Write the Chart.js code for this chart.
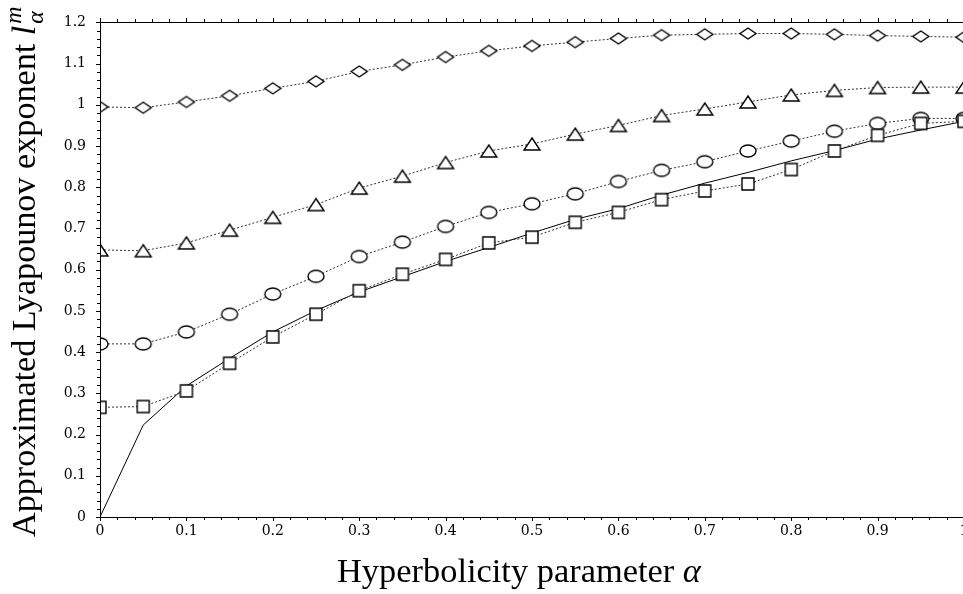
<!DOCTYPE html>
<html>
<head>
<meta charset="utf-8">
<script src="https://cdn.jsdelivr.net/npm/chart.js@4.4.1/dist/chart.umd.min.js"></script>
<style>
html,body{margin:0;padding:0;background:#fff;overflow:hidden;width:963px;height:594px;}
canvas{display:block;}
</style>
</head>
<body>
<canvas id="c" width="990" height="594"></canvas>
<script>
// ---- data ----
const alpha = [0,0.05,0.1,0.15,0.2,0.25,0.3,0.35,0.4,0.45,0.5,0.55,0.6,0.65,0.7,0.75,0.8,0.85,0.9,0.95,1.0];
const diamondVals  = [0.995,0.993,1.007,1.022,1.040,1.057,1.081,1.097,1.116,1.131,1.143,1.152,1.161,1.169,1.171,1.173,1.173,1.171,1.168,1.166,1.164];
const triangleVals = [0.648,0.646,0.665,0.696,0.727,0.758,0.798,0.827,0.860,0.888,0.905,0.929,0.950,0.974,0.990,1.007,1.024,1.035,1.042,1.043,1.043];
const circleVals   = [0.420,0.420,0.449,0.492,0.541,0.584,0.632,0.667,0.705,0.739,0.760,0.784,0.814,0.841,0.862,0.888,0.912,0.936,0.955,0.967,0.967];
const squareVals   = [0.266,0.268,0.306,0.373,0.437,0.492,0.549,0.589,0.625,0.665,0.679,0.715,0.739,0.770,0.791,0.808,0.843,0.888,0.926,0.955,0.960];
const exactVals    = [0,0.223,0.318,0.385,0.449,0.501,0.546,0.583,0.620,0.654,0.689,0.722,0.748,0.781,0.810,0.836,0.864,0.889,0.917,0.939,0.960];
const xTickLabels = {0:'0',1:'0.1',2:'0.2',3:'0.3',4:'0.4',5:'0.5',6:'0.6',7:'0.7',8:'0.8',9:'0.9',10:'1'};
const yTickLabels = {0:'0',1:'0.1',2:'0.2',3:'0.3',4:'0.4',5:'0.5',6:'0.6',7:'0.7',8:'0.8',9:'0.9',10:'1',11:'1.1',12:'1.2'};
const xTitle = 'Hyperbolicity parameter ';
const xTitleSym = 'α';
const yTitle = 'Approximated Lyapounov exponent ';

// ---- markers ----
function marker(w, h, path){
  const c = document.createElement('canvas');
  c.width = Math.ceil(w) + 4; c.height = Math.ceil(h) + 4;
  const g = c.getContext('2d');
  g.translate(c.width/2, c.height/2);
  g.beginPath(); path(g); g.closePath();
  g.fillStyle = '#fff'; g.fill();
  g.lineWidth = 1.4; g.strokeStyle = '#000'; g.stroke();
  return c;
}
const mDiamond = marker(16,11,g=>{g.moveTo(0,-5.5);g.lineTo(8,0);g.lineTo(0,5.5);g.lineTo(-8,0);});
const mTriangle = marker(16,12,g=>{g.moveTo(0,-6);g.lineTo(8,6);g.lineTo(-8,6);});
const mCircle = marker(16,12,g=>{g.ellipse(0,0,8,6,0,0,Math.PI*2);});
const mSquare = marker(12,12,g=>{g.rect(-6,-6,12,12);});

const pts = vals => alpha.map((a,i)=>({x:a, y:vals[i]}));
const dotted = (vals, img) => ({
  data: pts(vals), borderColor:'#333', borderWidth:1, borderDash:[2,2],
  pointStyle: img, pointRadius: 7, pointHoverRadius: 7, fill:false, tension:0
});

// ---- frame, ticks, titles ----
const framePlugin = {
  id:'frame',
  afterDraw(chart){
    const ctx = chart.ctx, xs = chart.scales.x, ys = chart.scales.y, a = chart.chartArea;
    ctx.save();
    ctx.strokeStyle = '#000'; ctx.lineWidth = 1;
    ctx.strokeRect(Math.round(a.left)+0.5, Math.round(a.top)+0.5, Math.round(a.right-a.left), Math.round(a.bottom-a.top));
    ctx.beginPath();
    for (let i=0;i<=50;i++){
      const v = i/50, px = Math.round(xs.getPixelForValue(v))+0.5;
      const L = (i%5===0)?4:3;
      ctx.moveTo(px, Math.round(a.bottom)); ctx.lineTo(px, Math.round(a.bottom)+L);
      ctx.moveTo(px, Math.round(a.top)); ctx.lineTo(px, Math.round(a.top)-L);
    }
    for (let i=0;i<=60;i++){
      const v = i/50, py = Math.round(ys.getPixelForValue(v))+0.5;
      const L = (i%5===0)?4:3;
      ctx.moveTo(Math.round(a.left), py); ctx.lineTo(Math.round(a.left)-L, py);
      ctx.moveTo(Math.round(a.right), py); ctx.lineTo(Math.round(a.right)+L, py);
    }
    ctx.stroke();

    ctx.fillStyle = '#000';
    ctx.textBaseline = 'alphabetic';
    // x title
    let fs = 31;
    ctx.font = fs+'px "Liberation Serif"';
    let w1 = ctx.measureText(xTitle).width;
    ctx.font = 'italic '+fs+'px "Liberation Serif"';
    let w2 = ctx.measureText(xTitleSym).width;
    const k = 364/(w1+w2);
    fs = fs*k;
    ctx.font = fs+'px "Liberation Serif"';
    ctx.fillText(xTitle, 337, 582);
    w1 = ctx.measureText(xTitle).width;
    ctx.font = 'italic '+fs+'px "Liberation Serif"';
    ctx.fillText(xTitleSym, 337+w1, 582);

    // y title (rotated)
    ctx.save();
    ctx.translate(35, 537);
    ctx.rotate(-Math.PI/2);
    let fy = 31;
    ctx.font = fy+'px "Liberation Serif"';
    let wy = ctx.measureText(yTitle).width;
    ctx.font = 'italic '+fy+'px "Liberation Serif"';
    let wl = ctx.measureText('l').width;
    ctx.font = 'italic '+(fy*0.7)+'px "Liberation Serif"';
    let wm = ctx.measureText('m').width;
    const ky = 531/(wy+wl+wm+2);
    fy = fy*ky;
    ctx.font = fy+'px "Liberation Serif"';
    ctx.fillText(yTitle, 0, 0);
    wy = ctx.measureText(yTitle).width;
    ctx.font = 'italic '+fy+'px "Liberation Serif"';
    ctx.fillText('l', wy, 0);
    wl = ctx.measureText('l').width;
    ctx.font = 'italic '+(fy*0.7)+'px "Liberation Serif"';
    ctx.fillText('m', wy+wl+2, -fy*0.42);
    ctx.fillText('α', wy+wl+2, fy*0.22);
    ctx.restore();
    ctx.restore();
  }
};

new Chart(document.getElementById('c'), {
  type:'line',
  data:{ datasets:[
    dotted(squareVals, mSquare),
    dotted(circleVals, mCircle),
    dotted(triangleVals, mTriangle),
    dotted(diamondVals, mDiamond),
    { data: pts(exactVals), borderColor:'#000', borderWidth:1, pointRadius:0, fill:false, tension:0 }
  ]},
  options:{
    responsive:false, animation:false, devicePixelRatio:1,
    layout:{ padding:{ top:12, right:26, left:0, bottom:0 } },
    plugins:{ legend:{display:false}, tooltip:{enabled:false} },
    scales:{
      x:{ type:'linear', min:0, max:1,
        afterFit(s){ s.height = 77; },
        grid:{ display:true, drawOnChartArea:false, drawTicks:false },
        border:{ display:false },
        ticks:{ stepSize:0.1, autoSkip:false, maxRotation:0, padding:6, color:'#000',
          font:{ family:'"DejaVu Serif"', size:14 },
          callback:(v)=>xTickLabels[Math.round(v*10)] }
      },
      y:{ type:'linear', min:0, max:1.2,
        afterFit(s){ s.width = 100; },
        grid:{ display:true, drawOnChartArea:false, drawTicks:false },
        border:{ display:false },
        ticks:{ stepSize:0.1, autoSkip:false, padding:14, color:'#000',
          font:{ family:'"DejaVu Serif"', size:14 },
          callback:(v)=>yTickLabels[Math.round(v*10)] }
      }
    }
  },
  plugins:[framePlugin]
});
</script>
</body>
</html>
